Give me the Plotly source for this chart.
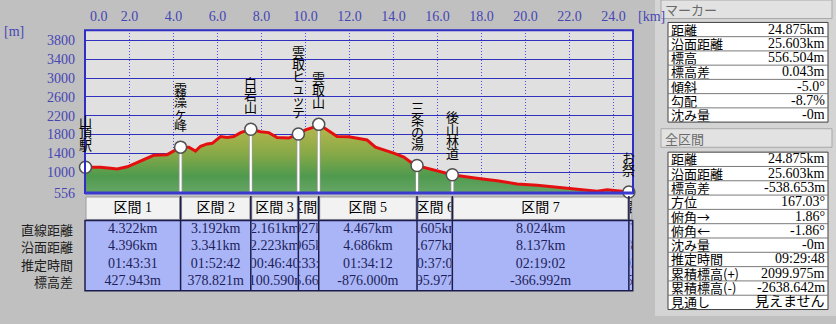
import plotly.graph_objects as go

W, H = 836, 324

# ---------------- data ----------------
dist_km = [0.0, 0.23, 0.68, 1.14, 1.44, 1.90, 2.35, 2.80, 3.10, 3.71, 4.09, 4.322,
           4.70, 5.00, 5.23, 5.53, 5.76, 5.99, 6.14, 6.44, 6.74, 7.05, 7.35, 7.514,
           7.95, 8.33, 8.71, 9.24, 9.47, 9.675, 10.0, 10.38, 10.602, 10.91, 11.14,
           11.44, 11.97, 12.50, 12.80, 13.18, 13.56, 14.01, 14.47, 14.77, 15.069,
           15.53, 15.99, 16.40, 16.674, 17.20, 17.65, 17.95, 18.71, 19.17, 19.62,
           20.53, 21.44, 22.35, 23.26, 23.71, 24.32, 24.62, 24.698, 24.875]
elev_m = [1105, 1110, 1104, 1083, 1068, 1116, 1207, 1311, 1359, 1373, 1462, 1533,
          1531, 1448, 1551, 1601, 1614, 1705, 1759, 1738, 1759, 1842, 1898, 1912,
          1862, 1842, 1738, 1726, 1773, 1811, 1898, 1960, 2017, 1925, 1842,
          1759, 1752, 1717, 1684, 1531, 1477, 1406, 1323, 1220, 1141,
          1083, 1027, 965, 945, 909, 876, 861, 820, 793, 751,
          722, 681, 654, 598, 627, 598, 590, 578, 556.5]

wp_names = ['山頂駅', '霧藻ヶ峰', '白岩山', '雲取ヒュッテ', '雲取山', '三条の湯', '後山林道', 'お祭']
wp_km = [0.0, 4.322, 7.514, 9.675, 10.602, 15.069, 16.674, 24.698]
wp_elev = [1105, 1533, 1912, 1811, 2017, 1141, 945, 578]
end_km = 24.875

x_ticks = [0, 2, 4, 6, 8, 10, 12, 14, 16, 18, 20, 22, 24]
x_tick_text = ['0.0', '2.0', '4.0', '6.0', '8.0', '10.0', '12.0', '14.0', '16.0',
               '18.0', '20.0', '22.0', '24.0']
y_ticks = [556, 1000, 1400, 1800, 2200, 2600, 3000, 3400, 3800]
y_tick_text = ['556', '1000', '1400', '1800', '2200', '2600', '3000', '3400', '3800']

sec_names = ['区間 1', '区間 2', '区間 3', '区間 4', '区間 5', '区間 6', '区間 7', '区間 8']
sec_straight = ['4.322km', '3.192km', '2.161km', '0.927km', '4.467km', '1.605km', '8.024km', '0.177km']
sec_surface = ['4.396km', '3.341km', '2.223km', '0.965km', '4.686km', '1.677km', '8.137km', '0.178km']
sec_time = ['01:43:31', '01:52:42', '00:46:40', '00:33:20', '01:34:12', '00:37:05', '02:19:02', '00:03:16']
sec_dh = ['427.943m', '378.821m', '-100.590m', '215.662m', '-876.000m', '-195.977m', '-366.992m', '-21.520m']
row_labels = ['直線距離', '沿面距離', '推定時間', '標高差']

marker_labels = ['距離', '沿面距離', '標高', '標高差', '傾斜', '勾配', '沈み量']
marker_values = ['24.875km', '25.603km', '556.504m', '0.043m', '-5.0°', '-8.7%', '-0m']
total_labels = ['距離', '沿面距離', '標高差', '方位', '俯角→', '俯角←', '沈み量', '推定時間',
                '累積標高(+)', '累積標高(-)', '見通し']
total_values = ['24.875km', '25.603km', '-538.653m', '167.03°', '1.86°', '-1.86°', '-0m',
                '09:29:48', '2099.975m', '-2638.642m', '見えません']

# ---------------- geometry / style ----------------
FONT = 'Liberation Serif, Noto Sans CJK JP'
JFONT = 'Noto Sans CJK JP'
AXIS_BLUE = '#4646b4'
PLOT_L, PLOT_R, PLOT_T, PLOT_B = 85, 633, 31, 198
X0_PX, PX_PER_KM = 85.5, 22.0
M_PER_PX = 400 / 19.3
x_range = [(PLOT_L - X0_PX) / PX_PER_KM, (PLOT_R - X0_PX) / PX_PER_KM]
y_range = [556, 556 + (PLOT_B - PLOT_T) * M_PER_PX]
TAB_T, TAB_HB, TAB_B = 201, 226, 298
ROW_H = 18


def px(x):
    return x / W


def py(y):
    return 1 - y / H


fig = go.Figure()
shapes = []
ann = []

# plot background
shapes.append(dict(type='rect', xref='paper', yref='paper', x0=px(PLOT_L), x1=px(PLOT_R),
                   y0=py(PLOT_B), y1=py(PLOT_T), fillcolor='#e0e0e0', line=dict(width=0), layer='below'))

# profile fill
fig.add_trace(go.Scatter(
    x=dist_km, y=elev_m, mode='lines', line=dict(width=0, color='rgba(0,0,0,0)'),
    fill='tozeroy',
    fillgradient=dict(type='vertical', start=556, stop=2017,
                      colorscale=[[0, '#6ca86c'], [0.3, '#4f9a4e'], [0.6, '#84a847'], [1, '#b6b64c']]),
    hoverinfo='skip', showlegend=False))

# stems
sx, sy = [], []
for k, e in zip(wp_km[1:-1], wp_elev[1:-1]):
    sx += [k, k, None]
    sy += [e, y_range[0], None]
fig.add_trace(go.Scatter(x=sx, y=sy, mode='lines', line=dict(color='#9a9a9a', width=3.5),
                         hoverinfo='skip', showlegend=False))
fig.add_trace(go.Scatter(x=sx, y=sy, mode='lines', line=dict(color='white', width=2),
                         hoverinfo='skip', showlegend=False))

# profile line
fig.add_trace(go.Scatter(x=dist_km, y=elev_m, mode='lines', line=dict(color='#e41010', width=3),
                         hoverinfo='skip', showlegend=False))

# waypoint circles
fig.add_trace(go.Scatter(x=wp_km, y=wp_elev, mode='markers', cliponaxis=False,
                         marker=dict(size=12, color='white', line=dict(color='#505050', width=1.5)),
                         hoverinfo='skip', showlegend=False))

# vertical waypoint labels: one annotation per name, one character per line;
# the line pitch follows the base font size, the glyphs are drawn larger
PITCH = 12.0
GLYPH = 13
for name, k, e in zip(wp_names, wp_km, wp_elev):
    txt = '<br>'.join(f'<span style="font-size:{GLYPH}px">{ch}</span>' for ch in name)
    ann.append(dict(x=k, y=e, xref='x', yref='y', text=txt, showarrow=False,
                    yanchor='bottom', xanchor='center', yshift=12, borderpad=0,
                    font=dict(family=JFONT, size=PITCH / 1.3, color='black')))

# plot frame
shapes.append(dict(type='rect', xref='paper', yref='paper', x0=px(PLOT_L), x1=px(PLOT_R),
                   y0=py(PLOT_B), y1=py(PLOT_T), line=dict(color='#2e2ec4', width=2), layer='above'))
shapes.append(dict(type='line', xref='paper', yref='paper', x0=px(PLOT_L), x1=px(PLOT_R),
                   y0=py(PLOT_B), y1=py(PLOT_B), line=dict(color='#3a3ad0', width=3), layer='above'))

# axis annotations
ann.append(dict(x=px(88), y=py(17), xref='paper', yref='paper', text='0.0', showarrow=False,
                xanchor='left', yanchor='middle', font=dict(family=FONT, size=14, color=AXIS_BLUE)))
ann.append(dict(x=px(636), y=py(17), xref='paper', yref='paper', text='[km]', showarrow=False,
                xanchor='left', yanchor='middle', font=dict(family=FONT, size=14, color=AXIS_BLUE)))
ann.append(dict(x=px(2), y=py(32), xref='paper', yref='paper', text='[m]', showarrow=False,
                xanchor='left', yanchor='middle', font=dict(family=FONT, size=14, color=AXIS_BLUE)))

# ---------------- section table ----------------
edges_km = wp_km + [end_km]
edges_px = [PLOT_L] + [X0_PX + k * PX_PER_KM for k in edges_km[1:]]
shapes.append(dict(type='rect', xref='paper', yref='paper', x0=px(PLOT_L), x1=px(edges_px[-1]),
                   y0=py(TAB_B), y1=py(TAB_HB), fillcolor='#a9b5f7', line=dict(width=0), layer='below'))
for j in range(len(sec_names)):
    l, r = edges_px[j], edges_px[j + 1]
    shapes.append(dict(type='rect', xref='paper', yref='paper', x0=px(l + 1), x1=px(r - 1),
                       y0=py(TAB_HB - 1), y1=py(TAB_T + 1), fillcolor='#f2f2f2',
                       line=dict(color='#9c9c9c', width=1), layer='below'))
    if j > 0:
        shapes.append(dict(type='line', xref='paper', yref='paper', x0=px(l), x1=px(l),
                           y0=py(TAB_B), y1=py(TAB_T), line=dict(color='#1c1c4c', width=1.5),
                           layer='above'))
shapes.append(dict(type='rect', xref='paper', yref='paper', x0=px(PLOT_L), x1=px(edges_px[-1]),
                   y0=py(TAB_B), y1=py(TAB_HB), line=dict(color='#1c1c4c', width=1.5), layer='above'))

ycent = [(TAB_HB - TAB_T) / 2] + [(TAB_HB - TAB_T) + ROW_H / 2 + ROW_H * i for i in range(4)]
layout_axes = {}
for j in range(len(sec_names)):
    ax = j + 2
    l, r = edges_px[j], edges_px[j + 1]
    layout_axes[f'xaxis{ax}'] = dict(domain=[px(l + 1), px(r - 1)], range=[0, 1], anchor='y2',
                                     showgrid=False, showticklabels=False, zeroline=False,
                                     showline=False, fixedrange=True)
    fig.add_trace(go.Scatter(
        x=[0.5] * 5, y=ycent,
        text=[sec_names[j], sec_straight[j], sec_surface[j], sec_time[j], sec_dh[j]],
        mode='text', textposition='middle center', cliponaxis=True,
        textfont=dict(family=FONT, size=14, color=['black'] + ['#1e1e5a'] * 4),
        xaxis=f'x{ax}', yaxis='y2', hoverinfo='skip', showlegend=False))

for i, lab in enumerate(row_labels):
    ann.append(dict(x=px(75), y=py(TAB_T + ycent[i + 1]), xref='paper', yref='paper', text=lab,
                    showarrow=False, xanchor='right', yanchor='middle',
                    font=dict(family=JFONT, size=13, color='#202020')))

# ---------------- right panel ----------------
shapes.append(dict(type='rect', xref='paper', yref='paper', x0=px(655), x1=1, y0=0, y1=1,
                   fillcolor='#d4d4d4', line=dict(width=0), layer='below'))


def group(title, top_bar, labels, values, box_top, row_h):
    shapes.append(dict(type='rect', xref='paper', yref='paper', x0=px(661), x1=px(832),
                       y0=py(top_bar + 19), y1=py(top_bar), fillcolor='#e2e2e2',
                       line=dict(color='#a8a8a8', width=1), layer='below'))
    ann.append(dict(x=px(663), y=py(top_bar + 10), xref='paper', yref='paper', text=title,
                    showarrow=False, xanchor='left', yanchor='middle',
                    font=dict(family=JFONT, size=13, color='#6a6a6a')))
    bottom = box_top + row_h * len(labels)
    shapes.append(dict(type='rect', xref='paper', yref='paper', x0=px(668), x1=px(828),
                       y0=py(bottom), y1=py(box_top), fillcolor='white',
                       line=dict(color='#404040', width=1), layer='below'))
    for i, (lab, val) in enumerate(zip(labels, values)):
        yc = box_top + row_h * (i + 0.5)
        if i > 0:
            yl = box_top + row_h * i
            shapes.append(dict(type='line', xref='paper', yref='paper', x0=px(668), x1=px(828),
                               y0=py(yl), y1=py(yl), line=dict(color='#7a7a7a', width=1),
                               layer='below'))
        ann.append(dict(x=px(670), y=py(yc), xref='paper', yref='paper', text=lab,
                        showarrow=False, xanchor='left', yanchor='middle',
                        height=row_h - 1, borderpad=0,
                        font=dict(family=JFONT, size=13, color='black')))
        ann.append(dict(x=px(826), y=py(yc), xref='paper', yref='paper', text=val,
                        showarrow=False, xanchor='right', yanchor='middle',
                        height=row_h - 1, borderpad=0,
                        font=dict(family=FONT, size=14, color='black')))


group('マーカー', 0, marker_labels, marker_values, 23, 14.6)
group('全区間', 132, total_labels, total_values, 156, 14.67)

fig.update_layout(
    width=W, height=H, margin=dict(l=0, r=0, t=0, b=0),
    paper_bgcolor='#c0c0c0', plot_bgcolor='rgba(0,0,0,0)',
    showlegend=False,
    xaxis=dict(domain=[px(PLOT_L), px(PLOT_R)], range=x_range, side='top', anchor='y',
               tickvals=x_ticks[1:], ticktext=x_tick_text[1:], ticks='', ticklabelstandoff=5,
               tickfont=dict(family=FONT, size=14, color=AXIS_BLUE),
               showgrid=True, gridcolor='#4a4ae0', griddash='1px,2px', gridwidth=1,
               zeroline=False, showline=False, fixedrange=True),
    yaxis=dict(domain=[py(PLOT_B), py(PLOT_T)], range=y_range, anchor='x',
               tickvals=y_ticks, ticktext=y_tick_text, ticks='', ticklabelstandoff=9,
               tickfont=dict(family=FONT, size=14, color=AXIS_BLUE),
               showgrid=True, gridcolor='#3030c0', gridwidth=1,
               zeroline=False, showline=False, fixedrange=True),
    yaxis2=dict(domain=[py(TAB_B), py(TAB_T)], range=[TAB_B - TAB_T, 0], anchor='x2',
                showgrid=False, showticklabels=False, zeroline=False, showline=False,
                fixedrange=True),
    shapes=shapes, annotations=ann,
    **layout_axes,
)

fig.write_html('out.html')
